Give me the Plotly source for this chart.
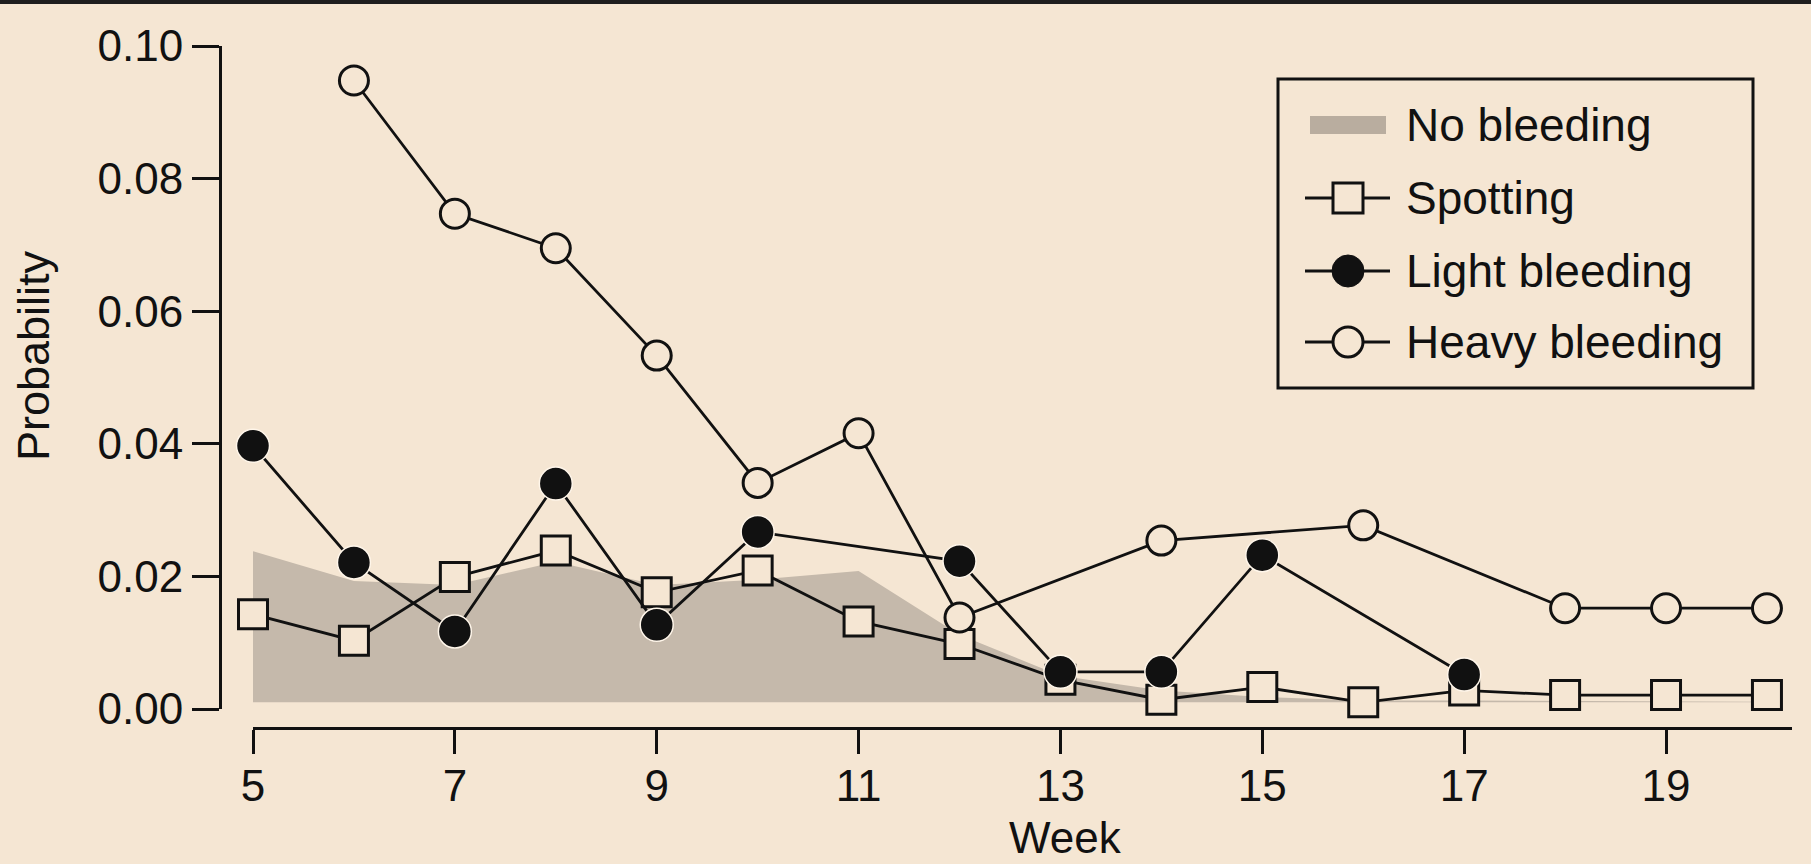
import plotly.graph_objects as go

# ---------------- data ----------------
weeks_none = [5, 6, 7, 8, 9, 10, 11, 12, 13, 14, 15, 16, 17, 18, 19, 20]
no_bleeding_top = [0.0238, 0.0193, 0.0187, 0.0222, 0.0187, 0.0195, 0.0208, 0.0112,
                   0.0050, 0.0028, 0.0018, 0.0013, 0.0013, 0.0012, 0.0011, 0.0011]
no_bleeding_base = [0.001, 0.001, 0.001, 0.001, 0.001, 0.001, 0.001, 0.001,
                    0.001, 0.001, 0.001, 0.001, 0.001, 0.001, 0.001, 0.001]

weeks_spotting = [5, 6, 7, 8, 9, 10, 11, 12, 13, 14, 15, 16, 17, 18, 19, 20]
spotting = [0.0143, 0.0103, 0.0199, 0.0239, 0.0176, 0.0209, 0.0132, 0.0098,
            0.0044, 0.0014, 0.0033, 0.0010, 0.0028, 0.0021, 0.0021, 0.0021]

weeks_light = [5, 6, 7, 8, 9, 10, 12, 13, 14, 15, 17]
light_bleeding = [0.0397, 0.0221, 0.0117, 0.0340, 0.0127, 0.0267, 0.0223,
                  0.0056, 0.0056, 0.0232, 0.0052]

weeks_heavy = [6, 7, 8, 9, 10, 11, 12, 14, 16, 18, 19, 20]
heavy_bleeding = [0.0948, 0.0747, 0.0695, 0.0533, 0.0341, 0.0416, 0.0138,
                  0.0254, 0.0277, 0.0152, 0.0152, 0.0152]

y_ticks = [0.00, 0.02, 0.04, 0.06, 0.08, 0.10]
x_ticks = [5, 7, 9, 11, 13, 15, 17, 19]
legend_labels = ["No bleeding", "Spotting", "Light bleeding", "Heavy bleeding"]

# ---------------- style ----------------
BG = "#F5E6D3"
FILL = "#C5B9AB"
LEG_FILL = "#B9AD9F"
INK = "#111111"
FONT = "Liberation Sans, Arial, sans-serif"

W, H = 1811, 864
L, R, T, B = 220, 19, 46, 136
PW, PH = W - L - R, H - T - B


def px(xp):
    return (xp - L) / PW


def py(yp):
    return (H - B - yp) / PH


fig = go.Figure()

fig.add_trace(go.Scatter(x=weeks_none, y=no_bleeding_base, mode="lines",
                         line=dict(width=0, color=FILL), showlegend=False,
                         hoverinfo="skip", cliponaxis=False))
fig.add_trace(go.Scatter(x=weeks_none, y=no_bleeding_top, mode="lines",
                         line=dict(width=0, color=FILL), fill="tonexty",
                         fillcolor=FILL, name="No bleeding", showlegend=False,
                         cliponaxis=False))
fig.add_trace(go.Scatter(x=weeks_spotting, y=spotting, mode="lines+markers",
                         name="Spotting", showlegend=False, cliponaxis=False,
                         line=dict(color=INK, width=2.8),
                         marker=dict(symbol="square", size=29, color=BG,
                                     line=dict(color=INK, width=3))))
fig.add_trace(go.Scatter(x=weeks_heavy, y=heavy_bleeding, mode="lines+markers",
                         name="Heavy bleeding", showlegend=False, cliponaxis=False,
                         line=dict(color=INK, width=2.8),
                         marker=dict(symbol="circle", size=29, color=BG,
                                     line=dict(color=INK, width=3))))
fig.add_trace(go.Scatter(x=weeks_light, y=light_bleeding, mode="lines+markers",
                         name="Light bleeding", showlegend=False, cliponaxis=False,
                         line=dict(color=INK, width=2.8),
                         marker=dict(symbol="circle", size=33, color=INK,
                                     line=dict(color="#FFF6EA", width=1.5))))

x0_dom = (253 - L) / PW
y0_dom = (H - B - 709) / PH
x_end = 5 + (1792 - 253) / 100.93

fig.update_layout(
    width=W, height=H,
    paper_bgcolor=BG, plot_bgcolor=BG,
    margin=dict(l=L, r=R, t=T, b=B),
    font=dict(family=FONT, color=INK, size=44),
    showlegend=False,
    xaxis=dict(domain=[x0_dom, 1], range=[5, x_end], anchor="free", position=0,
               tickmode="array", tickvals=x_ticks, ticktext=[str(v) for v in x_ticks],
               ticks="outside", ticklen=24, tickwidth=3, tickcolor=INK,
               ticklabelstandoff=-6,
               showline=True, linecolor=INK, linewidth=3, showgrid=False,
               zeroline=False, tickfont=dict(size=44, family=FONT, color=INK)),
    yaxis=dict(domain=[y0_dom, 1], range=[0, 0.10], anchor="free", position=0,
               tickmode="array", tickvals=y_ticks,
               ticktext=["%.2f" % v for v in y_ticks],
               ticks="outside", ticklen=27, tickwidth=3, tickcolor=INK,
               showline=True, linecolor=INK, linewidth=3, showgrid=False,
               zeroline=False, tickfont=dict(size=44, family=FONT, color=INK)),
)

# axis titles
fig.add_annotation(x=13.05, xref="x", y=py(837), yref="paper", text="Week",
                   showarrow=False, font=dict(size=44, family=FONT, color=INK),
                   xanchor="center", yanchor="middle")
fig.add_annotation(x=px(33), xref="paper", y=py(356), yref="paper", text="Probability",
                   textangle=-90, showarrow=False,
                   font=dict(size=45, family=FONT, color=INK),
                   xanchor="center", yanchor="middle")

shapes = []
# dark band at the top edge
shapes.append(dict(type="rect", xref="paper", yref="paper", x0=px(0), x1=px(W),
                   y0=py(0), y1=py(4), line=dict(width=0), fillcolor="#1E1E1E",
                   layer="above"))

# ---------------- legend (drawn) ----------------
leg_box = dict(x0=1278, x1=1753, y0=79, y1=388)
shapes.append(dict(type="rect", xref="paper", yref="paper",
                   x0=px(leg_box["x0"]), x1=px(leg_box["x1"]),
                   y0=py(leg_box["y0"]), y1=py(leg_box["y1"]),
                   line=dict(color=INK, width=3), fillcolor=BG, layer="above"))
item_y = [125, 198, 271, 342]
# No bleeding swatch
shapes.append(dict(type="rect", xref="paper", yref="paper", x0=px(1310), x1=px(1386),
                   y0=py(item_y[0] - 9), y1=py(item_y[0] + 9), line=dict(width=0),
                   fillcolor=LEG_FILL, layer="above"))
for yy in item_y[1:]:
    shapes.append(dict(type="line", xref="paper", yref="paper", x0=px(1305), x1=px(1390),
                       y0=py(yy), y1=py(yy), line=dict(color=INK, width=2.8),
                       layer="above"))
cx = 1348
r = 15
# spotting square
shapes.append(dict(type="rect", xref="paper", yref="paper", x0=px(cx - r), x1=px(cx + r),
                   y0=py(item_y[1] - r), y1=py(item_y[1] + r),
                   line=dict(color=INK, width=3), fillcolor=BG, layer="above"))
# light circle
shapes.append(dict(type="circle", xref="paper", yref="paper", x0=px(cx - 16), x1=px(cx + 16),
                   y0=py(item_y[2] - 16), y1=py(item_y[2] + 16),
                   line=dict(color=INK, width=1), fillcolor=INK, layer="above"))
# heavy circle
shapes.append(dict(type="circle", xref="paper", yref="paper", x0=px(cx - r), x1=px(cx + r),
                   y0=py(item_y[3] - r), y1=py(item_y[3] + r),
                   line=dict(color=INK, width=3), fillcolor=BG, layer="above"))

for lab, yy in zip(legend_labels, item_y):
    fig.add_annotation(x=px(1404), y=py(yy), xref="paper", yref="paper", text=lab,
                       showarrow=False, xanchor="left", yanchor="middle",
                       font=dict(size=46, family=FONT, color=INK))

fig.update_layout(shapes=shapes)

fig.write_html("out.html", config={"displayModeBar": False},
               post_script="document.body.style.margin='0px';")
